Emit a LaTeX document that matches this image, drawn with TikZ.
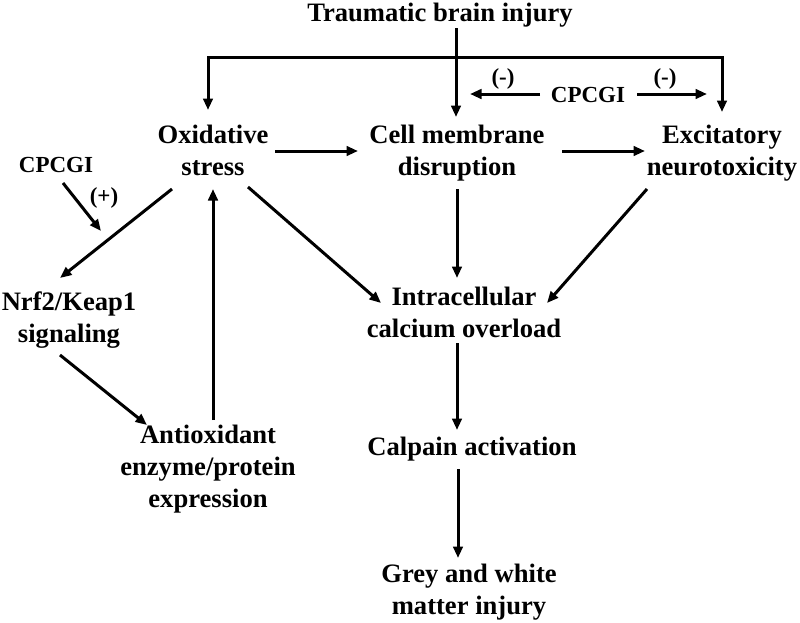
\documentclass[tikz,border=0pt]{standalone}
\usepackage{fontspec}
\setmainfont{Liberation Serif}
\usetikzlibrary{arrows.meta}
\newcommand{\mlines}[1]{\begin{tabular}[t]{@{}c@{}}#1\end{tabular}}
\begin{document}
\begin{tikzpicture}[x=1pt,y=-1pt,
  lbl/.style={inner sep=0pt, anchor=base, font=\fontsize{26.6}{32}\selectfont\bfseries},
  slbl/.style={inner sep=0pt, anchor=base, font=\fontsize{23}{27}\selectfont\bfseries},
  arr/.style={line width=3pt, line join=miter, -{Triangle[length=11.5pt,width=9.5pt]}},
  arrb/.style={line width=3pt, line join=miter, {Triangle[length=11.5pt,width=9.5pt]}-{Triangle[length=11.5pt,width=9.5pt]}}
  ]
\useasboundingbox[fill=white] (0,0) rectangle (800,622);

% nodes
\node[lbl] (title) at (440,21) {Traumatic brain injury};
\node[lbl] (ox) at (213,143) {\mlines{Oxidative\\stress}};
\node[lbl] (cm) at (457,143) {\mlines{Cell membrane\\disruption}};
\node[lbl] (ex) at (722,143) {\mlines{Excitatory\\neurotoxicity}};
\node[slbl] (cp1) at (588,102) {CPCGI};
\node[slbl] (m1) at (503,84) {(-)};
\node[slbl] (m2) at (665,84) {(-)};
\node[slbl] (cp2) at (56,172) {CPCGI};
\node[slbl] (plus) at (104,203) {(+)};
\node[lbl] (nrf) at (69,310) {\mlines{Nrf2/Keap1\\signaling}};
\node[lbl] (ic) at (464,305) {\mlines{Intracellular\\calcium overload}};
\node[lbl] (ao) at (208,443) {\mlines{Antioxidant\\enzyme/protein\\expression}};
\node[lbl] (ca) at (472,455) {Calpain activation};
\node[lbl] (gw) at (469,582) {\mlines{Grey and white\\matter injury}};

% connectors
\draw[arr] ([shift={(16,7)}]title.base) -- ([shift={(-1,-26)}]cm.base);
\draw[arrb] ([shift={(-5,-33)}]ox.base) |- ([shift={(0,-86)}]ex.base) -- ([shift={(0,-31)}]ex.base);
\draw[arr] ([shift={(-48,-8)}]cp1.base) -- ([shift={(13,-49)}]cm.base);
\draw[arr] ([shift={(49,-8)}]cp1.base) -- ([shift={(-15,-49)}]ex.base);
\draw[arr] ([shift={(62,8)}]ox.base) -- ([shift={(-99,8)}]cm.base);
\draw[arr] ([shift={(105,8)}]cm.base) -- ([shift={(-77,8)}]ex.base);
\draw[arr] ([shift={(7,11)}]cp2.base) -- ([shift={(32,-79)}]nrf.base);
\draw[arr] ([shift={(-41,46)}]ox.base) -- ([shift={(-9,-32)}]nrf.base);
\draw[arr] ([shift={(35,44)}]ox.base) -- ([shift={(-83,-2)}]ic.base);
\draw[arr] ([shift={(0,46)}]cm.base) -- ([shift={(-7,-27)}]ic.base);
\draw[arr] ([shift={(-75,46)}]ex.base) -- ([shift={(83,-2)}]ic.base);
\draw[arr] ([shift={(-9,45)}]nrf.base) -- ([shift={(-61,-18)}]ao.base);
\draw[arr] ([shift={(5,-23)}]ao.base) -- ([shift={(0,46)}]ox.base);
\draw[arr] ([shift={(-7,38)}]ic.base) -- ([shift={(-15,-25)}]ca.base);
\draw[arr] ([shift={(-14,14)}]ca.base) -- ([shift={(-11,-24)}]gw.base);
\end{tikzpicture}
\end{document}
